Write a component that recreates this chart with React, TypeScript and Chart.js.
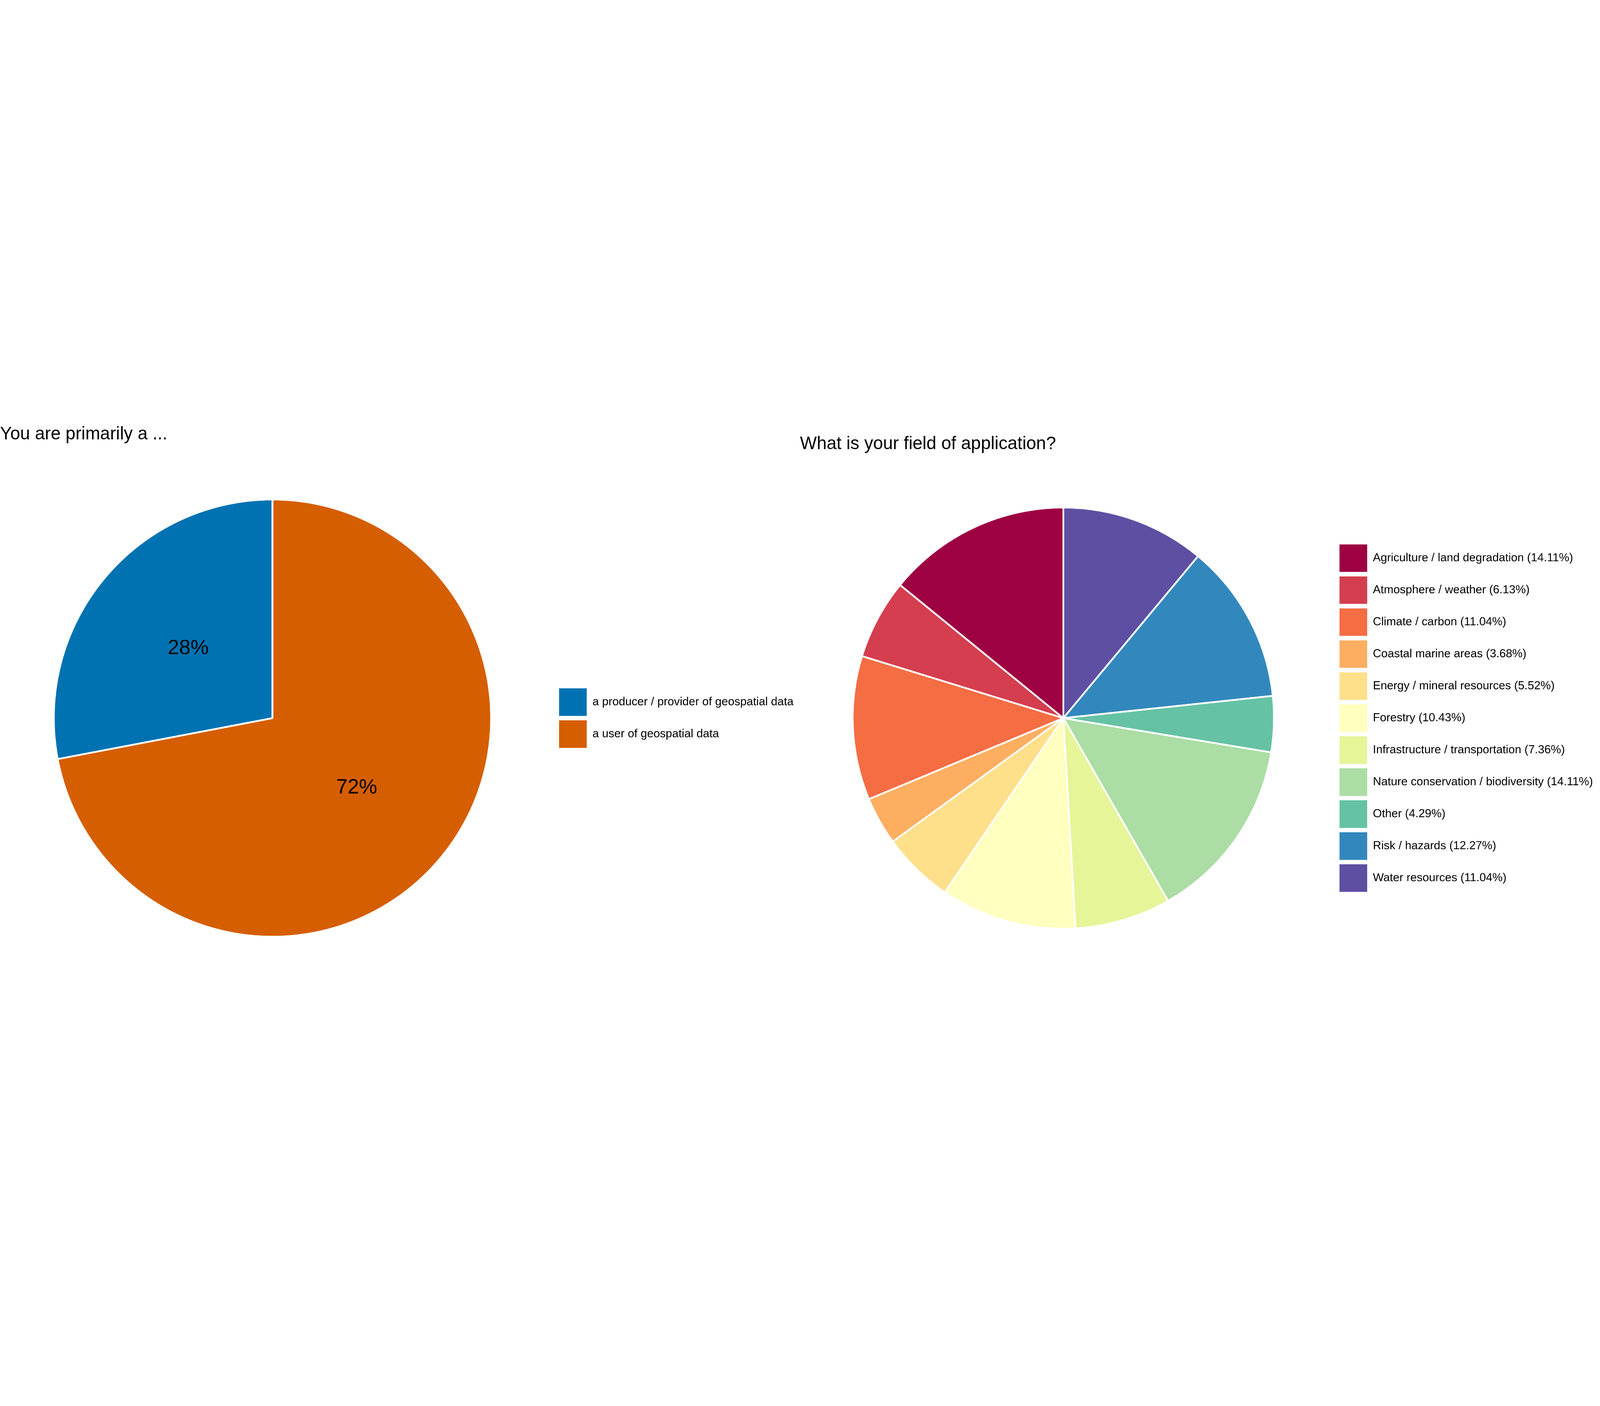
import { useRef, useEffect } from 'react';
import { Chart, DoughnutController, registerables } from 'chart.js';

Chart.register(...registerables);

// left pie: "You are primarily a ..."
const roleTitle = 'You are primarily a ...';
const roleLabels = ['a producer / provider of geospatial data', 'a user of geospatial data'];
const roleValues = [28, 72];
const roleColors = ['#0072B2', '#D55E00'];

// right pie: "What is your field of application?"
const fieldTitle = 'What is your field of application?';
const fieldLabels = [
  'Agriculture / land degradation',
  'Atmosphere / weather',
  'Climate / carbon',
  'Coastal marine areas',
  'Energy / mineral resources',
  'Forestry',
  'Infrastructure / transportation',
  'Nature conservation / biodiversity',
  'Other',
  'Risk / hazards',
  'Water resources',
];
const fieldValues = [14.11, 6.13, 11.04, 3.68, 5.52, 10.43, 7.36, 14.11, 4.29, 12.27, 11.04];
const fieldColors = [
  '#9E0142', '#D53E4F', '#F46D43', '#FDAE61', '#FEE08B', '#FFFFBF',
  '#E6F598', '#ABDDA4', '#66C2A5', '#3288BD', '#5E4FA2',
];

const FONT = '"Liberation Sans", Arial, Helvetica, sans-serif';
const LEGEND_SIZE = 52;
const BOX = 124;
const GAP = 20;

// the figure is laid out at 7200x3600 and scaled to fit the window
const FIG_W = 7200;
const FIG_H = 3600;

document.body.style.margin = '0';

type PieProps = {
  labels: string[],
  values: number[],
  colors: string[],
  left: number,
  width: number,
  legendLeft: number,
  radius: number,
  showPercent?: boolean
}

// ggplot draws the slices counter-clockwise, so the data is handed to Chart.js reversed
// and the legend is reversed back
function Pie({ labels, values, colors, left, width, legendLeft, radius, showPercent }: PieProps) {
  const canvasRef = useRef<HTMLCanvasElement>(null);

  useEffect(() => {
    const canvas = canvasRef.current;
    if (!canvas) return;
    const ctx = canvas.getContext('2d');
    if (!ctx) return;

    // legend width as Chart.js computes it, so the legend starts at legendLeft
    ctx.font = `${LEGEND_SIZE}px ${FONT}`;
    const textW = Math.max(...labels.map(l => ctx.measureText(l).width));
    const legendW = GAP + BOX + LEGEND_SIZE / 2 + textW + 10;
    const padRight = width - legendLeft - legendW;

    const percentLabels = {
      id: 'percentLabels',
      afterDatasetsDraw(chart: any) {
        if (!showPercent) return;
        const c = chart.ctx;
        const meta = chart.getDatasetMeta(0);
        const data = chart.data.datasets[0].data;
        c.save();
        c.font = `92px ${FONT}`;
        c.fillStyle = '#000';
        c.textAlign = 'center';
        c.textBaseline = 'middle';
        meta.data.forEach((arc: any, i: number) => {
          const p = arc.tooltipPosition();
          c.fillText(`${data[i]}%`, p.x, p.y);
        });
        c.restore();
      }
    };

    const baseLabels = (DoughnutController as any).overrides.plugins.legend.labels.generateLabels;

    const chart = new Chart(ctx, {
      type: 'pie',
      data: {
        labels: [...labels].reverse(),
        datasets: [{
          data: [...values].reverse(),
          backgroundColor: [...colors].reverse(),
          borderColor: '#ffffff',
          borderWidth: 8,
          radius: radius,
        } as any]
      },
      options: {
        responsive: false,
        maintainAspectRatio: false,
        animation: false,
        devicePixelRatio: 1,
        layout: {
          padding: { top: 136, bottom: 0, left: 0, right: padRight }
        },
        plugins: {
          legend: {
            position: 'right',
            align: 'center',
            reverse: true,
            labels: {
              boxWidth: BOX,
              boxHeight: BOX,
              padding: GAP,
              color: '#000000',
              font: { family: FONT, size: LEGEND_SIZE },
              generateLabels: (ch: any) => baseLabels(ch).map((l: any) => ({ ...l, lineWidth: 0 }))
            }
          },
          title: { display: false },
          tooltip: { enabled: false }
        }
      },
      plugins: [percentLabels]
    });
    return () => {
      chart.destroy();
    };
  }, [labels, values, colors, left, width, legendLeft, radius, showPercent]);

  return (
    <canvas
      ref={canvasRef}
      width={width}
      height={FIG_H}
      style={{ position: 'absolute', left: left, top: 0, width: width, height: FIG_H }}
    />
  );
}

const titleStyle = {
  position: 'absolute' as const,
  fontFamily: FONT,
  fontSize: 80,
  lineHeight: '80px',
  color: '#000',
  whiteSpace: 'nowrap' as const,
  margin: 0,
};

const fieldLegend = fieldLabels.map((l, i) => `${l} (${fieldValues[i].toFixed(2)}%)`);

export default function App() {
  const winW = window.innerWidth || FIG_W;
  const winH = window.innerHeight || FIG_H;
  const scale = Math.min(winW / FIG_W, winH / FIG_H, 1);
  const offsetY = Math.max((winH - FIG_H * scale) / 2, 0);

  return (
    <div style={{ position: 'relative', width: winW, height: winH, background: '#fff', overflow: 'hidden' }}>
      <div
        style={{
          position: 'absolute', left: 0, top: offsetY, width: FIG_W, height: FIG_H,
          overflow: 'hidden', background: '#fff',
          transform: `scale(${scale})`, transformOrigin: '0 0'
        }}
      >
        <Pie
          labels={roleLabels}
          values={roleValues}
          colors={roleColors}
          left={-44}
          width={3644}
          legendLeft={2540}
          radius={984}
          showPercent
        />
        <Pie
          labels={fieldLegend}
          values={fieldValues}
          colors={fieldColors}
          left={3562}
          width={3700}
          legendLeft={2446}
          radius={948}
        />
        <div style={{ ...titleStyle, left: 0, top: 547 }}>{roleTitle}</div>
        <div style={{ ...titleStyle, left: 3600, top: 591 }}>{fieldTitle}</div>
      </div>
    </div>
  );
}
